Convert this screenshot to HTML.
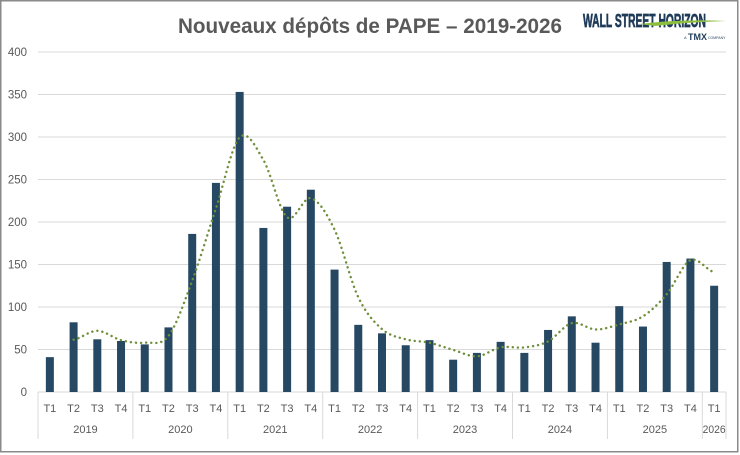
<!DOCTYPE html>
<html>
<head>
<meta charset="utf-8">
<style>
  html,body{margin:0;padding:0;background:#fff;}
  svg{display:block;}
  text{font-family:"Liberation Sans",Arial,sans-serif;}
</style>
</head>
<body>
<svg width="740" height="455" viewBox="0 0 740 455" xmlns="http://www.w3.org/2000/svg">
  <rect x="0" y="0" width="740" height="455" fill="#fff"/>
  <rect x="0.75" y="0.75" width="737" height="451" fill="none" stroke="#8a8a8a" stroke-width="1.5"/>

  <!-- Title -->
  <text x="178" y="33" font-size="21" font-weight="bold" fill="#595959" textLength="384" lengthAdjust="spacingAndGlyphs">Nouveaux dépôts de PAPE – 2019-2026</text>

  <!-- Logo -->
  <text x="583" y="27" font-size="18" font-weight="bold" fill="#1f3b5a" stroke="#1f3b5a" stroke-width="0.7" textLength="123" lengthAdjust="spacingAndGlyphs">WALL STREET HORIZON</text>
  <path d="M640 24 Q680 19 726 21 Q690 22 655 26 Z" fill="#8dbf3f"/>
  <text x="684" y="39" font-size="4" fill="#1f3b5a">A</text>
  <text x="688" y="40" font-size="9" font-weight="bold" fill="#1f3b5a">TMX</text>
  <text x="708" y="39" font-size="3.5" fill="#1f3b5a">COMPANY</text>

  <!-- Gridlines -->
  <g stroke="#d9d9d9" stroke-width="1">
    <line x1="38" y1="52" x2="726" y2="52"/>
    <line x1="38" y1="94.5" x2="726" y2="94.5"/>
    <line x1="38" y1="137" x2="726" y2="137"/>
    <line x1="38" y1="179.5" x2="726" y2="179.5"/>
    <line x1="38" y1="222" x2="726" y2="222"/>
    <line x1="38" y1="264.5" x2="726" y2="264.5"/>
    <line x1="38" y1="307" x2="726" y2="307"/>
    <line x1="38" y1="349.5" x2="726" y2="349.5"/>
    <line x1="38" y1="392" x2="726" y2="392"/>
    <!-- year separators -->
    <line x1="38" y1="392" x2="38" y2="439"/>
    <line x1="132.9" y1="392" x2="132.9" y2="439"/>
    <line x1="227.8" y1="392" x2="227.8" y2="439"/>
    <line x1="322.7" y1="392" x2="322.7" y2="439"/>
    <line x1="417.6" y1="392" x2="417.6" y2="439"/>
    <line x1="512.5" y1="392" x2="512.5" y2="439"/>
    <line x1="607.4" y1="392" x2="607.4" y2="439"/>
    <line x1="702.3" y1="392" x2="702.3" y2="439"/>
    <line x1="726" y1="392" x2="726" y2="439"/>
  </g>

  <!-- Y labels -->
  <g font-size="11.5" fill="#595959" text-anchor="end">
    <text x="27" y="56">400</text>
    <text x="27" y="98.5">350</text>
    <text x="27" y="141">300</text>
    <text x="27" y="183.5">250</text>
    <text x="27" y="226">200</text>
    <text x="27" y="268.5">150</text>
    <text x="27" y="311">100</text>
    <text x="27" y="353.5">50</text>
    <text x="27" y="396">0</text>
  </g>

  <!-- Bars -->
  <g fill="#264862">
    <rect x="45.86" y="357.15" width="8" height="34.85"/>
    <rect x="69.59" y="322.3" width="8" height="69.7"/>
    <rect x="93.31" y="339.3" width="8" height="52.7"/>
    <rect x="117.03" y="341" width="8" height="51"/>
    <rect x="140.76" y="344.4" width="8" height="47.6"/>
    <rect x="164.48" y="327.4" width="8" height="64.6"/>
    <rect x="188.21" y="233.9" width="8" height="158.1"/>
    <rect x="211.93" y="182.9" width="8" height="209.1"/>
    <rect x="235.66" y="91.95" width="8" height="300.05"/>
    <rect x="259.38" y="227.95" width="8" height="164.05"/>
    <rect x="283.1" y="206.7" width="8" height="185.3"/>
    <rect x="306.83" y="189.7" width="8" height="202.3"/>
    <rect x="330.55" y="269.6" width="8" height="122.4"/>
    <rect x="354.28" y="324.85" width="8" height="67.15"/>
    <rect x="378" y="333.35" width="8" height="58.65"/>
    <rect x="401.72" y="345.25" width="8" height="46.75"/>
    <rect x="425.45" y="340.15" width="8" height="51.85"/>
    <rect x="449.17" y="359.7" width="8" height="32.3"/>
    <rect x="472.9" y="352.9" width="8" height="39.1"/>
    <rect x="496.62" y="341.85" width="8" height="50.15"/>
    <rect x="520.34" y="352.9" width="8" height="39.1"/>
    <rect x="544.07" y="329.95" width="8" height="62.05"/>
    <rect x="567.79" y="316.35" width="8" height="75.65"/>
    <rect x="591.52" y="342.7" width="8" height="49.3"/>
    <rect x="615.24" y="306.15" width="8" height="85.85"/>
    <rect x="638.97" y="326.55" width="8" height="65.45"/>
    <rect x="662.69" y="261.95" width="8" height="130.05"/>
    <rect x="686.41" y="258.55" width="8" height="133.45"/>
    <rect x="710.14" y="285.75" width="8" height="106.25"/>
  </g>

  <!-- Trend line (2-period moving average) -->
  <path fill="none" stroke="#6f8f3a" stroke-width="2.4" stroke-linecap="round" stroke-dasharray="0.1 5"
    d="M 73.59 339.7
       C 81.50 338.22, 89.40 330.73, 97.31 330.8
       C 105.22 330.88, 113.12 338.17, 121.03 340.15
       C 128.94 342.13, 136.85 343.41, 144.76 342.7
       C 152.67 341.99, 160.57 346.24, 168.48 335.9
       C 176.39 325.56, 184.30 301.9, 192.21 280.65
       C 200.12 259.4, 208.02 232.28, 215.93 208.4
       C 223.84 184.53, 231.75 145.48, 239.66 137.4
       C 247.57 129.33, 255.47 146.63, 263.38 159.95
       C 271.29 173.27, 279.19 210.93, 287.10 217.3
       C 295.01 223.68, 302.92 196.14, 310.83 198.2
       C 318.74 200.26, 326.64 213.15, 334.55 229.65
       C 342.46 246.15, 350.37 280.63, 358.28 297.2
       C 366.19 313.78, 374.09 322.08, 382.00 329.1
       C 389.91 336.12, 397.81 337.03, 405.72 339.3
       C 413.63 341.57, 421.54 340.93, 429.45 342.7
       C 437.36 344.47, 445.26 347.63, 453.17 349.9
       C 461.08 352.17, 468.99 356.72, 476.90 356.3
       C 484.81 355.88, 492.71 348.88, 500.62 347.4
       C 508.53 345.92, 516.43 348.4, 524.34 347.4
       C 532.25 346.4, 540.16 345.44, 548.07 341.4
       C 555.98 337.36, 563.88 325.13, 571.79 323.15
       C 579.70 321.17, 587.61 329.29, 595.52 329.5
       C 603.43 329.71, 611.33 326.59, 619.24 324.4
       C 627.15 322.21, 635.06 321.38, 642.97 316.35
       C 650.88 311.33, 658.78 303.6, 666.69 294.25
       C 674.60 284.9, 682.50 263.93, 690.41 260.25
       C 698.32 256.57, 706.23 270.17, 714.14 272.15"/>

  <!-- X quarter labels -->
  <g font-size="11" fill="#595959" text-anchor="middle">
    <text x="49.86" y="412">T1</text>
    <text x="73.59" y="412">T2</text>
    <text x="97.31" y="412">T3</text>
    <text x="121.03" y="412">T4</text>
    <text x="144.76" y="412">T1</text>
    <text x="168.48" y="412">T2</text>
    <text x="192.21" y="412">T3</text>
    <text x="215.93" y="412">T4</text>
    <text x="239.66" y="412">T1</text>
    <text x="263.38" y="412">T2</text>
    <text x="287.1" y="412">T3</text>
    <text x="310.83" y="412">T4</text>
    <text x="334.55" y="412">T1</text>
    <text x="358.28" y="412">T2</text>
    <text x="382" y="412">T3</text>
    <text x="405.72" y="412">T4</text>
    <text x="429.45" y="412">T1</text>
    <text x="453.17" y="412">T2</text>
    <text x="476.9" y="412">T3</text>
    <text x="500.62" y="412">T4</text>
    <text x="524.34" y="412">T1</text>
    <text x="548.07" y="412">T2</text>
    <text x="571.79" y="412">T3</text>
    <text x="595.52" y="412">T4</text>
    <text x="619.24" y="412">T1</text>
    <text x="642.97" y="412">T2</text>
    <text x="666.69" y="412">T3</text>
    <text x="690.41" y="412">T4</text>
    <text x="714.14" y="412">T1</text>
  </g>

  <!-- Year labels -->
  <g font-size="11" fill="#595959" text-anchor="middle">
    <text x="85.45" y="433">2019</text>
    <text x="180.35" y="433">2020</text>
    <text x="275.25" y="433">2021</text>
    <text x="370.15" y="433">2022</text>
    <text x="465.05" y="433">2023</text>
    <text x="559.95" y="433">2024</text>
    <text x="654.85" y="433">2025</text>
    <text x="714.14" y="433" textLength="23" lengthAdjust="spacingAndGlyphs">2026</text>
  </g>
</svg>
</body>
</html>
